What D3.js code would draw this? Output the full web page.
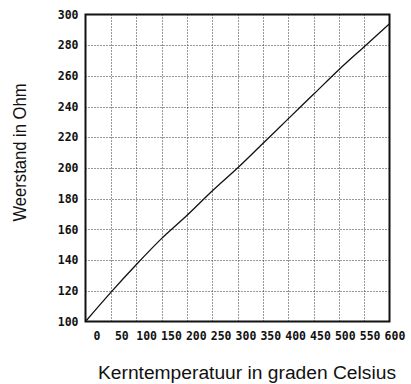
<!DOCTYPE html>
<html>
<head>
<meta charset="utf-8">
<script src="https://cdn.jsdelivr.net/npm/d3@7"></script>
<style>
  html, body { margin: 0; padding: 0; background: #fff; }
  svg { display: block; }
</style>
</head>
<body>
<svg id="chart" width="411" height="384"></svg>
<script>
// Kerntemperatuur (°C) en gemeten weerstand (Ohm)
const temperatures = [0, 50, 100, 150, 200, 250, 300, 350, 400, 450, 500, 550, 600];
const resistance   = [100, 119, 137, 154, 169, 185, 200, 216, 232, 248, 264, 279, 294];
const xTicks = [0, 50, 100, 150, 200, 250, 300, 350, 400, 450, 500, 550, 600];
const yTicks = [100, 120, 140, 160, 180, 200, 220, 240, 260, 280, 300];

const svg = d3.select("#chart");
const plot = { left: 85.5, right: 389.5, top: 14.5, bottom: 321.5 };

const x = d3.scaleLinear().domain([0, 600]).range([plot.left, plot.right]);
const y = d3.scaleLinear().domain([100, 300]).range([plot.bottom, plot.top]);
// tick labels sit on a slightly shifted band under the plot
const xLabel = d3.scaleLinear().domain([0, 600]).range([96.5, 394.5]);

const tickFont = "'DejaVu Sans Mono', monospace";
const titleFont = "'Liberation Sans', Arial, sans-serif";

// dotted grid
const grid = svg.append("g").attr("stroke", "#333").attr("stroke-width", 1)
  .attr("stroke-dasharray", "1,2");
grid.selectAll("line.v").data(xTicks.slice(1, -1)).join("line")
  .attr("x1", d => Math.round(x(d)) + 0.5).attr("x2", d => Math.round(x(d)) + 0.5)
  .attr("y1", plot.top).attr("y2", plot.bottom);
grid.selectAll("line.h").data(yTicks.slice(1, -1)).join("line")
  .attr("y1", d => Math.round(y(d)) + 0.5).attr("y2", d => Math.round(y(d)) + 0.5)
  .attr("x1", plot.left).attr("x2", plot.right);

// frame
svg.append("rect")
  .attr("x", plot.left).attr("y", plot.top)
  .attr("width", plot.right - plot.left).attr("height", plot.bottom - plot.top)
  .attr("fill", "none").attr("stroke", "#111").attr("stroke-width", 2);

// y axis labels
const yAxis = svg.append("g")
  .attr("transform", `translate(${plot.left - 7},0)`)
  .call(d3.axisLeft(y).tickValues(yTicks).tickSize(0).tickPadding(0).tickFormat(d3.format("d")));
yAxis.select(".domain").remove();
yAxis.selectAll("text")
  .attr("font-family", tickFont).attr("font-weight", "bold").attr("font-size", 11.5)
  .attr("fill", "#111");

// x axis labels
const xAxis = svg.append("g")
  .attr("transform", `translate(0,${plot.bottom + 10})`)
  .call(d3.axisBottom(xLabel).tickValues(xTicks).tickSize(0).tickPadding(0).tickFormat(d3.format("d")));
xAxis.select(".domain").remove();
xAxis.selectAll("text")
  .attr("font-family", tickFont).attr("font-weight", "bold").attr("font-size", 11.5)
  .attr("fill", "#111");

// curve
svg.append("path")
  .datum(temperatures.map((t, i) => [t, resistance[i]]))
  .attr("fill", "none").attr("stroke", "#111").attr("stroke-width", 1.3)
  .attr("d", d3.line().x(d => x(d[0])).y(d => y(d[1])).curve(d3.curveMonotoneX));

// axis titles
svg.append("text")
  .attr("transform", "translate(26,152.5) rotate(-90)")
  .attr("text-anchor", "middle")
  .attr("font-family", titleFont).attr("font-size", 18)
  .attr("textLength", 138).attr("lengthAdjust", "spacingAndGlyphs")
  .attr("fill", "#111")
  .text("Weerstand in Ohm");

svg.append("text")
  .attr("x", 247).attr("y", 379)
  .attr("text-anchor", "middle")
  .attr("font-family", titleFont).attr("font-size", 18)
  .attr("textLength", 298).attr("lengthAdjust", "spacingAndGlyphs")
  .attr("fill", "#111")
  .text("Kerntemperatuur in graden Celsius");
</script>
</body>
</html>
